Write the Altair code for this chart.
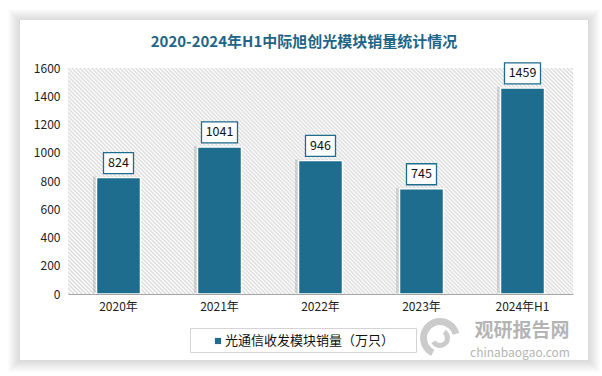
import altair as alt
import pandas as pd

categories = ["2020年", "2021年", "2022年", "2023年", "2024年H1"]
values = [824, 1041, 946, 745, 1459]
series_name = "光通信收发模块销量（万只）"
title_text = "2020-2024年H1中际旭创光模块销量统计情况"
y_ticks = [0, 200, 400, 600, 800, 1000, 1200, 1400, 1600]
wm_name = "观研报告网"
wm_url = "chinabaogao.com"

FONT = "Noto Sans CJK SC"
BAR = "#1e6c8e"
TITLE_C = "#1f6587"

W, H = 505, 226
PL, PT = 68, 68

df = pd.DataFrame({"year": categories, "value": values,
                   "label": [str(v) for v in values]})
df["nd"] = df["label"].str.len()

one = pd.DataFrame({"a": [0]})

x = alt.X("year:N", sort=categories,
          scale=alt.Scale(paddingInner=0, paddingOuter=0),
          axis=alt.Axis(title=None, labelAngle=0, labelFont=FONT, labelFontSize=12,
                        labelColor="#222222", labelPadding=7, ticks=False,
                        domainColor="#a6a6a6", domainWidth=1, zindex=1))
y = alt.Y("value:Q", scale=alt.Scale(domain=[0, 1600], nice=False),
          axis=alt.Axis(title=None, values=y_ticks, format="d", grid=False, domain=False,
                        ticks=False, labelPadding=8, labelFont=FONT, labelFontSize=12,
                        labelColor="#222222", zindex=1))

# card + soft shadow (decoration)
cx0, cy0, cx1, cy1 = 20 - PL, 20 - PT, 588 - PL, 360 - PT
layers = []
for i in range(12, 0, -1):
    layers.append(alt.Chart(one).mark_rect(fill="black", fillOpacity=0.011).encode(
        x=alt.value(cx0 - i), x2=alt.value(cx1 + i),
        y=alt.value(cy0 - i + 1), y2=alt.value(cy1 + i)))
layers.append(alt.Chart(one).mark_rect(fill="white").encode(
    x=alt.value(cx0), x2=alt.value(cx1), y=alt.value(cy0), y2=alt.value(cy1)))

# hatched plot background via a striped gradient
r = H / W
k = (1 + r) / (1 + r * r)
N = 183
stops = []
for j in range(N):
    o = j / N
    stops.append({"offset": o, "color": "#ffffff"})
    stops.append({"offset": o + 0.5 / N, "color": "#dadada"})
stops.append({"offset": 1.0, "color": "#ffffff"})
hatch = {"gradient": "linear", "x1": 0, "y1": 1, "x2": k, "y2": 1 - k * r, "stops": stops}
layers.append(alt.Chart(one).mark_rect(fill=hatch).encode(
    x=alt.value(0), x2=alt.value(W), y=alt.value(0), y2=alt.value(H)))

base = alt.Chart(df)
# bar shadow
layers.append(base.mark_bar(width=47, color="black", opacity=0.12, xOffset=-2, yOffset=-1).encode(x=x, y=y))
layers.append(base.mark_bar(width=44, color=BAR, stroke="white", strokeWidth=1.5).encode(x=x, y=y))

# label boxes
for nd, bw in [(3, 30), (4, 36)]:
    layers.append(base.transform_filter(alt.datum.nd == nd).mark_bar(
        width=bw, fill="white", stroke=BAR, strokeWidth=1.3, yOffset=-25, y2Offset=-4).encode(
        x=x, y=y, y2="value:Q"))
layers.append(base.mark_text(font=FONT, fontSize=12.5, color="#111111", baseline="middle",
                             yOffset=-14.5).encode(x=x, y=y, text="label:N"))

# title
layers.append(alt.Chart(pd.DataFrame({"t": [title_text]})).mark_text(
    font=FONT, fontSize=15, fontWeight="bold", color=TITLE_C, align="center", baseline="middle").encode(
    x=alt.value(304 - PL), y=alt.value(42 - PT), text="t:N"))

# legend
layers.append(alt.Chart(one).mark_rect(fill="white", stroke="#d4d4d4", strokeWidth=1).encode(
    x=alt.value(190.5 - PL), x2=alt.value(416.5 - PL), y=alt.value(328.5 - PT), y2=alt.value(352.5 - PT)))
layers.append(alt.Chart(one).mark_square(size=38, color=BAR, opacity=1).encode(
    x=alt.value(218 - PL), y=alt.value(341 - PT)))
layers.append(alt.Chart(pd.DataFrame({"t": [series_name]})).mark_text(
    font=FONT, fontSize=13, color="#111111", align="left", baseline="middle").encode(
    x=alt.value(225 - PL), y=alt.value(340.5 - PT), text="t:N"))

# watermark
layers.append(alt.Chart(one).mark_arc(radius=20, radius2=13, theta=3.6, theta2=7.6,
                                      color="#b5b5b5", opacity=0.7).encode(
    x=alt.value(440 - PL), y=alt.value(338 - PT)))
layers.append(alt.Chart(one).mark_arc(radius=10, radius2=5, theta=0.6, theta2=4.2,
                                      color="#b5b5b5", opacity=0.7).encode(
    x=alt.value(440 - PL), y=alt.value(338 - PT)))
layers.append(alt.Chart(pd.DataFrame({"t": [wm_name]})).mark_text(
    font=FONT, fontSize=19, fontWeight="bold", color="#9c9c9c", opacity=0.75,
    align="center", baseline="middle").encode(
    x=alt.value(522 - PL), y=alt.value(331 - PT), text="t:N"))
layers.append(alt.Chart(pd.DataFrame({"t": [wm_url]})).mark_text(
    font=FONT, fontSize=12, color="#9c9c9c", opacity=0.75,
    align="center", baseline="middle").encode(
    x=alt.value(520 - PL), y=alt.value(353 - PT), text="t:N"))

chart = alt.layer(*layers).properties(
    width=W, height=H,
    padding={"left": PL, "top": PT, "right": 602 - PL - W, "bottom": 376 - PT - H},
    autosize="none", background="white"
).configure_view(stroke=None)

chart.save("out.html", embed_options={"renderer": "svg", "actions": False})
